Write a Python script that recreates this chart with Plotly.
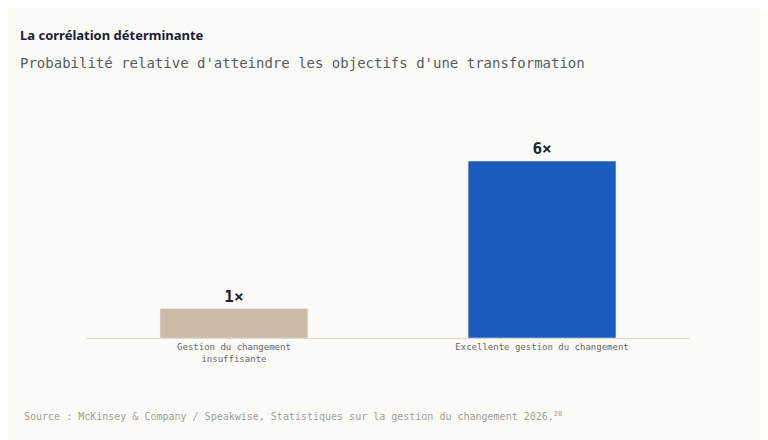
import plotly.graph_objects as go

categories = ["Gestion du changement<br>insuffisante", "Excellente gestion du changement"]
values = [1, 6]
labels = ["<b>1×</b>", "<b>6×</b>"]
colors = ["#cbbaa8", "#1b5cbd"]

mono = "DejaVu Sans Mono"
W, H = 760, 432  # page body adds ~8px margin
L, R, T, B = 79, 79, 92, 102

fig = go.Figure(go.Bar(
    x=[0, 1], y=values, marker_color=colors, width=0.48,
    text=labels, textposition="outside", cliponaxis=False,
    textfont=dict(family=mono, size=16, color="#1a2233"),
))
fig.update_layout(
    width=W, height=H, paper_bgcolor="#fbfaf7", plot_bgcolor="#fbfaf7",
    margin=dict(l=L, r=R, t=T, b=B), showlegend=False,
    xaxis=dict(showline=True, linecolor="#dcd6cc", linewidth=1, range=[-0.477, 1.477],
               tickvals=[0, 1], ticktext=categories,
               tickfont=dict(family=mono, size=9, color="#666"), ticks=""),
    yaxis=dict(visible=False, range=[0, 8.07]),
)

def px_note(text, x, y, size, color, family):
    fig.add_annotation(text=text, xref="paper", yref="paper",
                       x=(x - 8 - L) / (W - L - R), y=1 - (y - 8 - T) / (H - T - B),
                       showarrow=False, xanchor="left", yanchor="middle",
                       font=dict(family=family, size=size, color=color))

px_note("<b>La corrélation déterminante</b>", 18, 35, 13, "#1a2233", "Noto Sans")
px_note("Probabilité relative d'atteindre les objectifs d'une transformation",
        18, 63, 14, "#555c66", mono)
px_note("Source : McKinsey & Company / Speakwise, Statistiques sur la gestion du changement 2026.<sup>20</sup>",
        22, 416, 10, "#a0a0a0", mono)

fig.write_html("out.html")
